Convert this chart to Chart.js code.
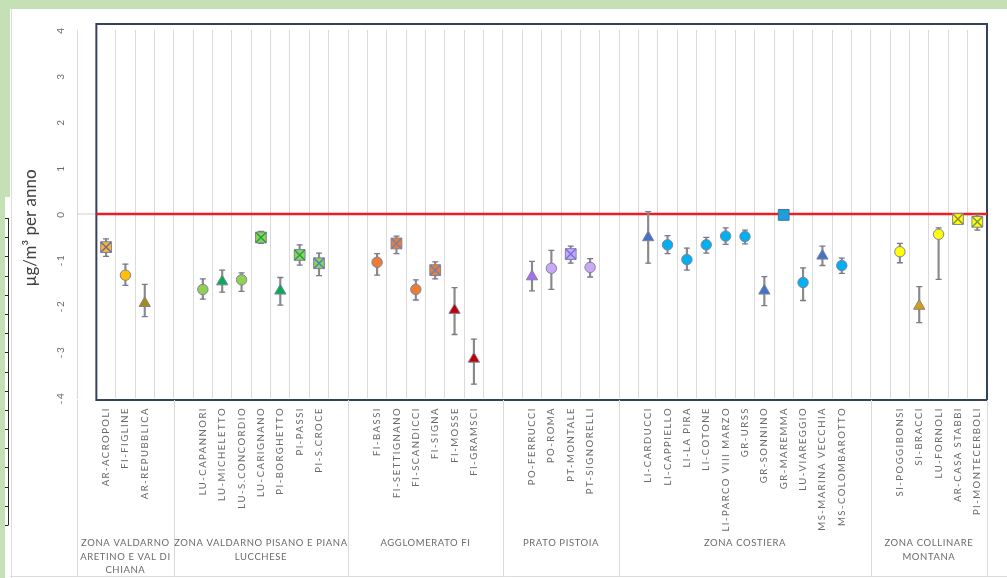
<!DOCTYPE html>
<html>
<head>
<meta charset="utf-8">
<script src="https://cdn.jsdelivr.net/npm/chart.js@4"></script>
<style>
  html, body { margin: 0; padding: 0; background: #fff; }
  canvas { display: block; }
</style>
</head>
<body>
<canvas id="trend" width="1007" height="578"></canvas>
<script>
// Stations along the category axis; empty slots separate the zones.
const stations = [
  '', 'AR-ACROPOLI', 'FI-FIGLINE', 'AR-REPUBBLICA', '',
  '', 'LU-CAPANNORI', 'LU-MICHELETTO', 'LU-S.CONCORDIO', 'LU-CARIGNANO', 'PI-BORGHETTO', 'PI-PASSI', 'PI-S.CROCE', '',
  '', 'FI-BASSI', 'FI-SETTIGNANO', 'FI-SCANDICCI', 'FI-SIGNA', 'FI-MOSSE', 'FI-GRAMSCI', '',
  '', 'PO-FERRUCCI', 'PO-ROMA', 'PT-MONTALE', 'PT-SIGNORELLI', '',
  '', 'LI-CARDUCCI', 'LI-CAPPIELLO', 'LI-LA PIRA', 'LI-COTONE', 'LI-PARCO VIII MARZO', 'GR-URSS', 'GR-SONNINO',
  'GR-MAREMMA', 'LU-VIAREGGIO', 'MS-MARINA VECCHIA', 'MS-COLOMBAROTTO', '',
  '', 'SI-POGGIBONSI', 'SI-BRACCI', 'LU-FORNOLI', 'AR-CASA STABBI', 'PI-MONTECERBOLI'
];

// Annual trend (µg/m³ per year) and its confidence interval
const trend = [
  null, -0.72, -1.33, -1.94, null,
  null, -1.64, -1.47, -1.43, -0.51, -1.67, -0.89, -1.07, null,
  null, -1.05, -0.64, -1.64, -1.22, -2.09, -3.15, null,
  null, -1.36, -1.18, -0.87, -1.16, null,
  null, -0.51, -0.67, -0.99, -0.67, -0.48, -0.49, -1.67,
  -0.02, -1.49, -0.91, -1.12, null,
  null, -0.82, -2.00, -0.44, -0.11, -0.17
];
const trendLow = [
  null, -0.92, -1.55, -2.23, null,
  null, -1.85, -1.70, -1.68, -0.64, -1.98, -1.11, -1.34, null,
  null, -1.33, -0.86, -1.87, -1.41, -2.62, -3.70, null,
  null, -1.67, -1.64, -1.07, -1.37, null,
  null, -1.07, -0.86, -1.22, -0.85, -0.66, -0.65, -1.99,
  -0.04, -1.88, -1.12, -1.29, null,
  null, -1.06, -2.36, -1.42, -0.19, -0.35
];
const trendHigh = [
  null, -0.54, -1.09, -1.53, null,
  null, -1.41, -1.22, -1.28, -0.38, -1.38, -0.67, -0.85, null,
  null, -0.86, -0.48, -1.43, -1.04, -1.60, -2.72, null,
  null, -1.03, -0.79, -0.70, -0.97, null,
  null, 0.05, -0.47, -0.74, -0.51, -0.30, -0.35, -1.36,
  0.00, -1.17, -0.70, -0.96, null,
  null, -0.64, -1.58, -0.30, -0.02, -0.02
];

// Zones: label lines and number of category slots each one spans
const zoneNames = [
  ['ZONA VALDARNO', 'ARETINO E VAL DI', 'CHIANA'],
  ['ZONA VALDARNO PISANO E PIANA', 'LUCCHESE'],
  ['AGGLOMERATO FI'],
  ['PRATO PISTOIA'],
  ['ZONA COSTIERA'],
  ['ZONA COLLINARE', 'MONTANA']
];
const zoneSlots = [5, 9, 8, 6, 13, 6];

const yMin = -4, yMax = 4, yStep = 1;
const yTitle = 'µg/m³ per anno';

// Marker styling per station
const markerShape = [
  'circle', 'rect', 'circle', 'triangle', 'circle',
  'circle', 'circle', 'triangle', 'circle', 'rect', 'triangle', 'rect', 'rect', 'circle',
  'circle', 'circle', 'rect', 'circle', 'rect', 'triangle', 'triangle', 'circle',
  'circle', 'triangle', 'circle', 'rect', 'circle', 'circle',
  'circle', 'triangle', 'circle', 'circle', 'circle', 'circle', 'circle', 'triangle',
  'rect', 'circle', 'triangle', 'circle', 'circle',
  'circle', 'circle', 'triangle', 'circle', 'rect', 'rect'
];
const markerFill = [
  null, '#F4BC1C', '#FFC000', '#A88A10', null,
  null, '#92D050', '#00B050', '#92D050', '#92D050', '#00B050', '#92D050', '#92D050', null,
  null, '#ED7D31', '#ED7D31', '#ED7D31', '#ED7D31', '#C00000', '#C00000', null,
  null, '#A66DF0', '#C9A8F7', '#C9A8F7', '#C9A8F7', null,
  null, '#4472C4', '#00B0F0', '#00B0F0', '#00B0F0', '#00B0F0', '#00B0F0', '#4472C4',
  '#1F9ED9', '#00B0F0', '#4472C4', '#00B0F0', null,
  null, '#FFFF00', '#D6A00A', '#FFFF00', '#FFFF00', '#FFFF00'
];
const crossColor = [
  null, '#6F5FC0', null, null, null,
  null, null, null, null, '#1AA050', null, '#1AA060', '#4A7FD0', null,
  null, null, '#7080B0', null, '#6A7FC0', null, null, null,
  null, null, null, '#7070E0', null, null,
  null, null, null, null, null, null, null, null,
  null, null, null, null, null,
  null, null, null, null, '#8A8A40', '#7A9060'
];
const shapeRadius = { circle: 5.2, triangle: 6.5, rect: 7.6 };

const FONT = 'Lato, "Open Sans", sans-serif';
const LABEL_GREY = '#6a6a6a';
Chart.defaults.font.family = FONT;

const decorations = {
  id: 'decorations',
  beforeLayout(chart) {
    chart.ctx.letterSpacing = '1.5px';
  },
  beforeDraw(chart) {
    const c = chart.ctx, W = chart.width, H = chart.height;
    c.save();
    c.letterSpacing = '0px';
    // green frame and white panel
    c.fillStyle = '#C6E0B5';
    c.fillRect(0, 0, W, H);
    c.fillStyle = '#FFFFFF';
    c.fillRect(10, 9, W - 10, H - 9);
    c.fillRect(5, 197, 10, H - 197);
    c.strokeStyle = '#DCDCDC';
    c.lineWidth = 1;
    c.beginPath();
    c.moveTo(11.5, 9); c.lineTo(11.5, H);
    c.moveTo(10, H - 1.5); c.lineTo(W, H - 1.5);
    c.stroke();
    // ruler on the left edge
    c.strokeStyle = '#2A2A2A';
    c.beginPath();
    c.moveTo(8.5, 218); c.lineTo(8.5, 525);
    for (let k = 0; k <= 16; k++) {
      const y = Math.round(218 + k * (525 - 218) / 16) + 0.5;
      c.moveTo(5, y); c.lineTo(8.5, y);
    }
    c.stroke();
    c.restore();
    c.letterSpacing = '1.5px';
  },
  beforeDatasetsDraw(chart) {
    const c = chart.ctx, H = chart.height;
    const { left, right, top, bottom } = chart.chartArea;
    const xs = chart.scales.x, ys = chart.scales.y;
    const slot = xs.getPixelForValue(1) - xs.getPixelForValue(0);
    const edge = k => xs.getPixelForValue(k) - slot / 2;
    const y0 = ys.getPixelForValue(0);
    const boxL = edge(1);
    c.save();
    // horizontal axis stub at zero
    c.strokeStyle = '#D0D0D0';
    c.lineWidth = 1;
    c.beginPath(); c.moveTo(left, y0); c.lineTo(boxL, y0); c.stroke();
    // plot frame
    c.strokeStyle = '#34425E';
    c.lineWidth = 2;
    c.strokeRect(boxL, top - 6, right - boxL, bottom + 2 - (top - 6));
    // zero reference line
    c.strokeStyle = '#EE1C24';
    c.lineWidth = 2.6;
    c.beginPath(); c.moveTo(boxL, y0); c.lineTo(right, y0); c.stroke();
    // zone separators and names
    c.strokeStyle = '#D9D9D9';
    c.lineWidth = 1;
    let k = 0;
    const bounds = [0];
    zoneSlots.forEach(n => { k += n; bounds.push(k); });
    c.beginPath();
    bounds.forEach(b => {
      const x = Math.round(edge(b)) + 0.5;
      c.moveTo(x, bottom + 2); c.lineTo(x, H - 1);
    });
    c.stroke();
    c.fillStyle = LABEL_GREY;
    c.font = '9.5px ' + FONT;
    c.letterSpacing = '0.6px';
    c.textAlign = 'center';
    c.textBaseline = 'middle';
    zoneNames.forEach((lines, i) => {
      const cx = (edge(bounds[i]) + edge(bounds[i + 1])) / 2;
      lines.forEach((t, j) => c.fillText(t, cx, 543 + j * 13.5));
    });
    // value axis title
    c.letterSpacing = '0px';
    c.translate(31, 228);
    c.rotate(-Math.PI / 2);
    c.fillStyle = '#404040';
    c.font = '17px ' + FONT;
    c.fillText(yTitle, 0, 0);
    c.restore();
  }
};

new Chart(document.getElementById('trend'), {
  type: 'bar',
  data: {
    labels: stations,
    datasets: [
      {
        type: 'bar',
        data: stations.map((_, i) => trend[i] === null ? null : [trendLow[i], trendHigh[i]]),
        backgroundColor: '#8A8A8A',
        barThickness: 1.5,
        grouped: false,
        order: 4
      },
      {
        type: 'line',
        data: trendLow,
        showLine: false,
        pointStyle: 'line',
        pointRadius: 3,
        pointBorderColor: '#7D7890',
        pointBorderWidth: 1.3,
        order: 3
      },
      {
        type: 'line',
        data: trendHigh,
        showLine: false,
        pointStyle: 'line',
        pointRadius: 3,
        pointBorderColor: '#7D7890',
        pointBorderWidth: 1.3,
        order: 3
      },
      {
        type: 'line',
        data: trend,
        showLine: false,
        pointStyle: markerShape,
        pointRadius: markerShape.map(s => shapeRadius[s]),
        pointBackgroundColor: markerFill,
        pointBorderColor: markerShape.map((s, i) => i === 36 ? '#2E75B6' : '#8080A0'),
        pointBorderWidth: 1,
        order: 2
      },
      {
        type: 'line',
        data: trend.map((v, i) => crossColor[i] ? v : null),
        showLine: false,
        pointStyle: 'crossRot',
        pointRadius: 7.4,
        pointBorderColor: crossColor,
        pointBorderWidth: 1.4,
        order: 1
      }
    ]
  },
  options: {
    responsive: false,
    maintainAspectRatio: false,
    devicePixelRatio: 1,
    animation: false,
    events: [],
    layout: { padding: { top: 30, right: 20, bottom: 0, left: 0 } },
    plugins: { legend: { display: false }, tooltip: { enabled: false } },
    scales: {
      x: {
        type: 'category',
        offset: true,
        grid: { display: true, offset: true, color: '#DADADA', lineWidth: 1, drawTicks: false },
        border: { display: false },
        ticks: {
          autoSkip: false,
          minRotation: 90,
          maxRotation: 90,
          padding: 9,
          color: LABEL_GREY,
          font: { size: 9.5, family: FONT }
        },
        afterFit(scale) { scale.height = 180; }
      },
      y: {
        type: 'linear',
        min: yMin,
        max: yMax,
        grid: { display: false, drawTicks: false },
        border: { display: true, color: '#D9D9D9', width: 1 },
        ticks: {
          stepSize: yStep,
          minRotation: 90,
          maxRotation: 90,
          crossAlign: 'center',
          padding: 10,
          color: LABEL_GREY,
          font: { size: 10, family: FONT }
        },
        afterFit(scale) { scale.width = 77; }
      }
    }
  },
  plugins: [decorations]
});
</script>
</body>
</html>
